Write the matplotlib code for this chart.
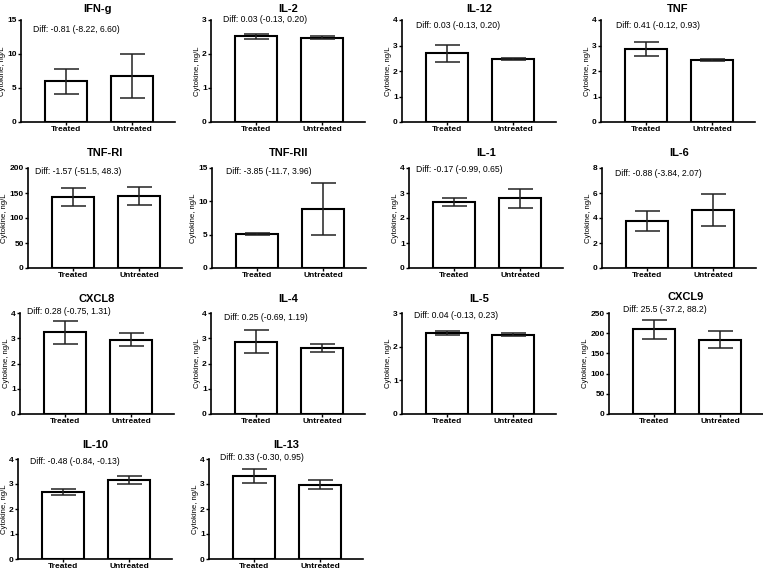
import matplotlib
matplotlib.use("Agg")
import matplotlib.pyplot as plt

plt.rcParams['font.family'] = ['Liberation Sans', 'DejaVu Sans']

# Data: mean and error (half-width) per group
names = ['IFN-g', 'IL-2', 'IL-12', 'TNF',
         'TNF-RI', 'TNF-RII', 'IL-1', 'IL-6',
         'CXCL8', 'IL-4', 'IL-5', 'CXCL9',
         'IL-10', 'IL-13']
groups = ['Treated', 'Untreated']
treated_mean = [6.0, 2.52, 2.70, 2.85, 142, 5.05, 2.63, 3.75, 3.23, 2.87, 2.40, 210, 2.68, 3.32]
treated_err = [1.85, 0.07, 0.33, 0.27, 17.5, 0.15, 0.16, 0.78, 0.46, 0.46, 0.06, 23.5, 0.11, 0.27]
untreated_mean = [6.8, 2.48, 2.47, 2.44, 144, 8.85, 2.80, 4.65, 2.95, 2.62, 2.36, 184, 3.16, 2.98]
untreated_err = [3.25, 0.04, 0.05, 0.03, 18.5, 3.9, 0.38, 1.28, 0.25, 0.15, 0.05, 21.5, 0.15, 0.17]
ymax = [15, 3, 4, 4, 200, 15, 4, 8, 4, 4, 3, 250, 4, 4]
ystep = [5, 1, 1, 1, 50, 5, 1, 2, 1, 1, 1, 50, 1, 1]
diffs = ['Diff: -0.81 (-8.22, 6.60)', 'Diff: 0.03 (-0.13, 0.20)', 'Diff: 0.03 (-0.13, 0.20)',
         'Diff: 0.41 (-0.12, 0.93)', 'Diff: -1.57 (-51.5, 48.3)', 'Diff: -3.85 (-11.7, 3.96)',
         'Diff: -0.17 (-0.99, 0.65)', 'Diff: -0.88 (-3.84, 2.07)', 'Diff: 0.28 (-0.75, 1.31)',
         'Diff: 0.25 (-0.69, 1.19)', 'Diff: 0.04 (-0.13, 0.23)', 'Diff: 25.5 (-37.2, 88.2)',
         'Diff: -0.48 (-0.84, -0.13)', 'Diff: 0.33 (-0.30, 0.95)']

# layout in pixels: (left, top, bottom) of each axes, diff text offset, title gap
W, H = 763, 572
boxes = [(21, 20, 122), (211, 20, 122), (402, 20, 122), (601, 20, 122),
         (28, 168, 268), (212, 168, 268), (409, 168, 268), (602, 168, 268),
         (20, 313, 414), (211, 313, 414), (402, 313, 414), (609, 313, 414),
         (18, 459, 559), (209, 459, 559)]
text_off = [(12, 10), (12, 0), (14, 5), (15, 5),
            (7, 3), (14, 3), (7, 1), (13, 5),
            (7, -1), (13, 5), (12, 3), (14, -4),
            (12, 3), (11, -1)]
title_pad = [5.5, 5.5, 5.5, 5.5, 9, 9, 9, 9, 8, 8, 8, 9.5, 8, 8]
axw = 154

fig = plt.figure(figsize=(W / 100, H / 100), dpi=100)

for i, name in enumerate(names):
    left, top, bottom = boxes[i]
    ax = fig.add_axes([left / W, 1 - bottom / H, axw / W, (bottom - top) / H])
    means = [treated_mean[i], untreated_mean[i]]
    errs = [treated_err[i], untreated_err[i]]
    ax.bar([0, 1], means, width=0.64, color='white', edgecolor='black', linewidth=1.5, zorder=2)
    ax.errorbar([0, 1], means, yerr=errs, fmt='none', ecolor='#222222', elinewidth=1.1,
                capsize=9, capthick=1.1, zorder=3)
    ax.set_xlim(-0.68, 1.65)
    ax.set_ylim(0, ymax[i])
    ax.set_yticks(range(0, ymax[i] + 1, ystep[i]))
    ax.set_xticks([0, 1])
    ax.set_xticklabels(groups, fontsize=6, fontweight='bold')
    for lab in ax.get_yticklabels():
        lab.set_fontsize(6)
        lab.set_fontweight('bold')
    ax.tick_params(axis='both', length=2, width=1, pad=1)
    ax.spines['top'].set_visible(False)
    ax.spines['right'].set_visible(False)
    ax.spines['left'].set_linewidth(1.2)
    ax.spines['bottom'].set_linewidth(1.2)
    ax.set_ylabel('Cytokine, ng/L', fontsize=5.6, labelpad=0.8)
    ax.set_title(name, fontsize=8, fontweight='bold', pad=title_pad[i])
    dx, dy = text_off[i]
    fig.text((left + dx) / W, 1 - (top + dy) / H, diffs[i], fontsize=6.2,
             ha='left', va='center')

fig.savefig('out.png', dpi=100)
